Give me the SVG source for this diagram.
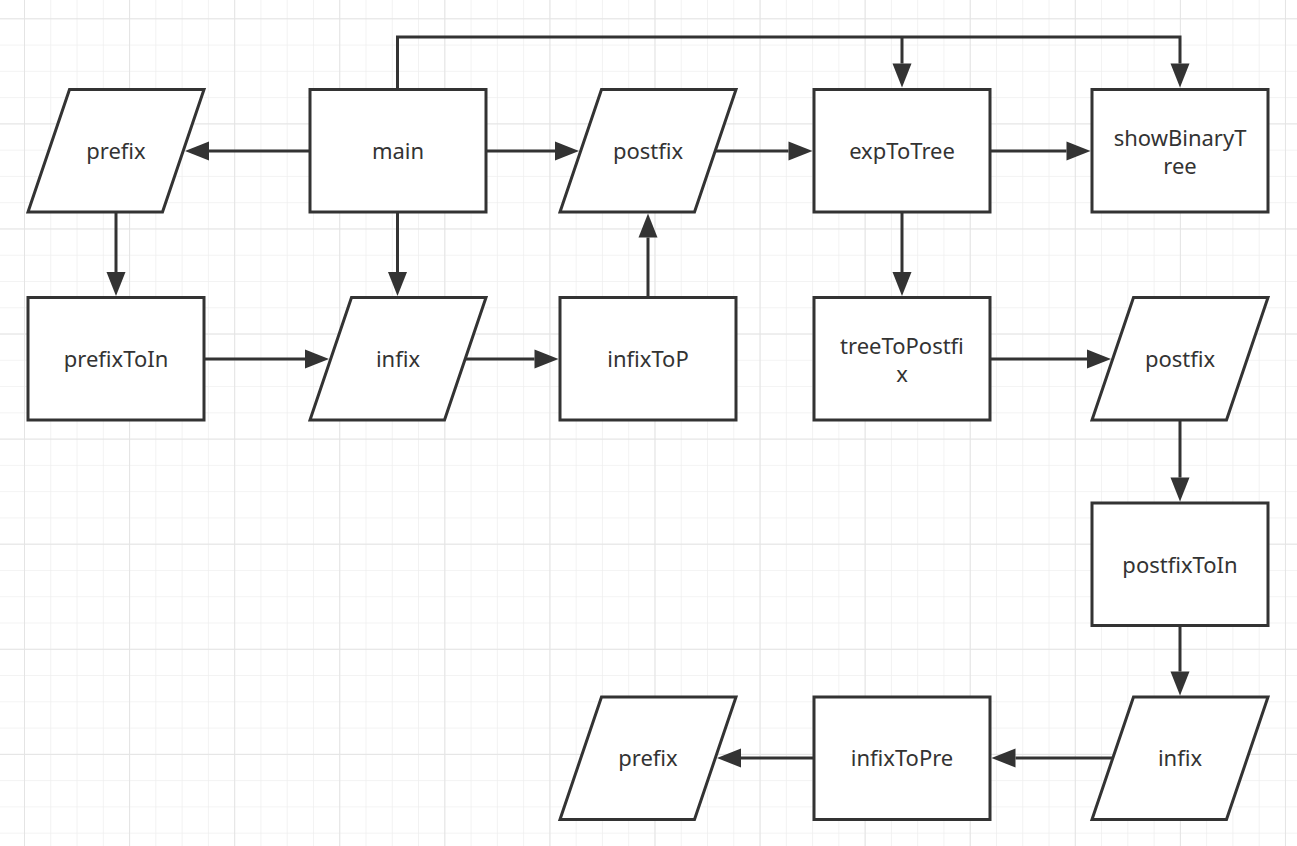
<svg xmlns="http://www.w3.org/2000/svg" width="1297" height="846" viewBox="0 0 1297 846">
<style>
.n{fill:#fff;stroke:#333;stroke-width:3;stroke-linejoin:miter}
.t{font-family:"Noto Sans","Open Sans",sans-serif;font-size:22px;fill:#333;text-anchor:middle}
.c{fill:none;stroke:#333;stroke-width:3}
</style>
<defs>
<pattern id="gmin" patternUnits="userSpaceOnUse" x="24" y="18.3" width="26.27" height="26.27">
<path d="M0,0H26.27M0,0V26.27" fill="none" stroke="#efefef" stroke-width="1.5"/>
</pattern>
<pattern id="gmaj" patternUnits="userSpaceOnUse" x="24" y="18.3" width="105.08" height="105.08">
<path d="M0,0H105.08M0,0V105.08" fill="none" stroke="#e4e4e4" stroke-width="2"/>
</pattern>
<marker id="ah" markerUnits="userSpaceOnUse" markerWidth="24" markerHeight="19" refX="0" refY="9.5" orient="auto" overflow="visible">
<path d="M0,0L24,9.5L0,19z" fill="#333"/>
</marker>
</defs>
<rect width="1297" height="846" fill="#fff"/>
<rect width="1297" height="846" fill="url(#gmin)"/>
<rect width="1297" height="846" fill="url(#gmaj)"/>
<g id="connectors">
<path class="c" d="M310,151H209" marker-end="url(#ah)"/>
<path class="c" d="M486,151H555" marker-end="url(#ah)"/>
<path class="c" d="M715,151H788.5" marker-end="url(#ah)"/>
<path class="c" d="M990,151H1066.5" marker-end="url(#ah)"/>
<path class="c" d="M397.5,89V37H1180V63.5" marker-end="url(#ah)"/>
<path class="c" d="M902,37V63.5" marker-end="url(#ah)"/>
<path class="c" d="M116,212V272" marker-end="url(#ah)"/>
<path class="c" d="M397.5,212V272" marker-end="url(#ah)"/>
<path class="c" d="M204,359H305" marker-end="url(#ah)"/>
<path class="c" d="M465,359H534.5" marker-end="url(#ah)"/>
<path class="c" d="M648,297V237.5" marker-end="url(#ah)"/>
<path class="c" d="M902,212V272" marker-end="url(#ah)"/>
<path class="c" d="M990,359H1087" marker-end="url(#ah)"/>
<path class="c" d="M1180,420V477.5" marker-end="url(#ah)"/>
<path class="c" d="M1180,626V671.5" marker-end="url(#ah)"/>
<path class="c" d="M1112.75,758H1015.5" marker-end="url(#ah)"/>
<path class="c" d="M814,758H741" marker-end="url(#ah)"/>
</g>
<g id="prefix1"><polygon class="n" points="69.5,89.5 204,89.5 162.5,212 28,212"/><text class="t" x="116" y="159">prefix</text></g>
<g id="main"><rect class="n" x="310" y="89.5" width="176" height="122.5"/><text class="t" x="398" y="159">main</text></g>
<g id="postfix1"><polygon class="n" points="601.5,89.5 736,89.5 694.5,212 560,212"/><text class="t" x="648" y="159">postfix</text></g>
<g id="expToTree"><rect class="n" x="814" y="89.5" width="176" height="122.5"/><text class="t" x="902" y="159">expToTree</text></g>
<g id="showBinaryTree"><rect class="n" x="1092" y="89.5" width="176" height="122.5"/><text class="t" x="1180" y="146.3">showBinaryT</text><text class="t" x="1180" y="173.5">ree</text></g>
<g id="prefixToIn"><rect class="n" x="28" y="297.5" width="176" height="122.5"/><text class="t" x="116" y="367">prefixToIn</text></g>
<g id="infix1"><polygon class="n" points="351.5,297.5 486,297.5 444.5,420 310,420"/><text class="t" x="398" y="367">infix</text></g>
<g id="infixToP"><rect class="n" x="560" y="297.5" width="176" height="122.5"/><text class="t" x="648" y="367">infixToP</text></g>
<g id="treeToPostfix"><rect class="n" x="814" y="297.5" width="176" height="122.5"/><text class="t" x="902" y="354">treeToPostfi</text><text class="t" x="902" y="381.5">x</text></g>
<g id="postfix2"><polygon class="n" points="1133.5,297.5 1268,297.5 1226.5,420 1092,420"/><text class="t" x="1180" y="367">postfix</text></g>
<g id="postfixToIn"><rect class="n" x="1092" y="503" width="176" height="122.5"/><text class="t" x="1180" y="572.5">postfixToIn</text></g>
<g id="infix2"><polygon class="n" points="1133.5,697 1268,697 1226.5,819.5 1092,819.5"/><text class="t" x="1180" y="766">infix</text></g>
<g id="infixToPre"><rect class="n" x="814" y="697" width="176" height="122.5"/><text class="t" x="902" y="766">infixToPre</text></g>
<g id="prefix2"><polygon class="n" points="601.5,697 736,697 694.5,819.5 560,819.5"/><text class="t" x="648" y="766">prefix</text></g>
</svg>
